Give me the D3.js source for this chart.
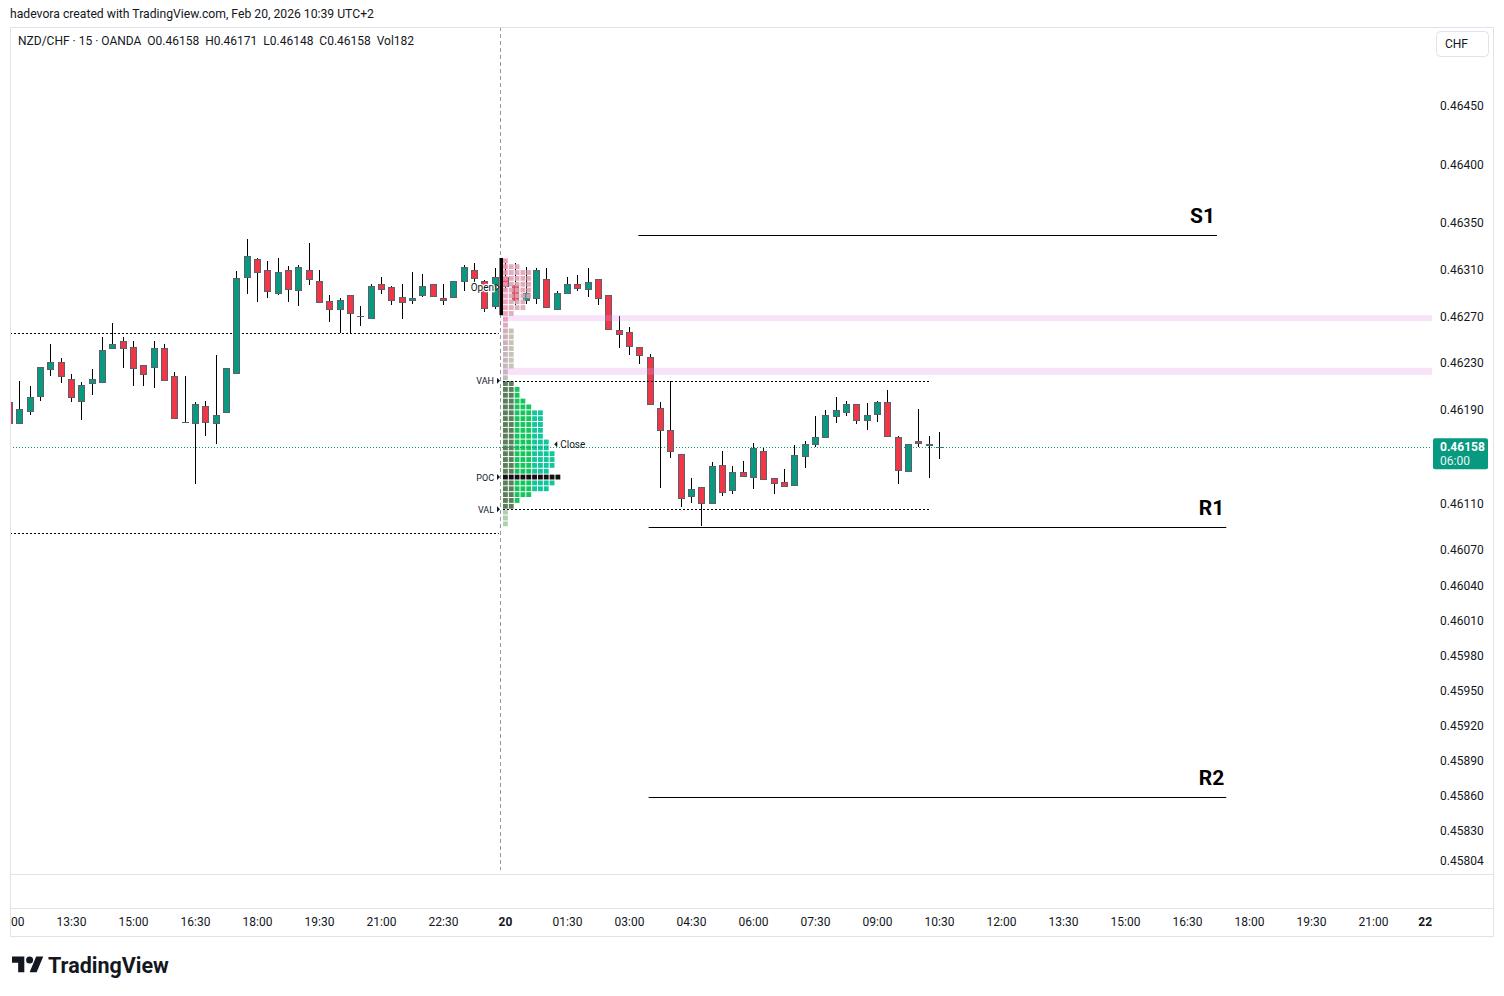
<!DOCTYPE html>
<html>
<head>
<meta charset="utf-8">
<script src="https://cdn.jsdelivr.net/npm/d3@7"></script>
<style>
  body { margin: 0; background: #fff; }
  svg text { font-family: "Trebuchet MS", Roboto, sans-serif; }
</style>
</head>
<body>
<svg id="chart" width="1504" height="996"></svg>
<script>
// 15 min bars, index 0 = Feb 19 12:00
const OPENS = [
  0.46197,0.46179,0.46189,0.46202,0.46225,0.46231,0.46216,0.46197,0.46213,0.46214,
  0.46243,0.46249,0.46244,0.46228,0.46227,0.46243,0.46219,0.46180,0.46179,0.46193,
  0.46179,0.46188,0.46222,0.46304,0.46319,0.46310,0.46290,0.46310,0.46292,0.46310,
  0.46300,0.46283,0.46276,0.46288,0.46270,0.46269,0.46298,0.46295,0.46287,0.46284,
  0.46288,0.46298,0.46286,0.46286,0.46300,0.46310,0.46300,0.46279,0.46304,0.46297,
  0.46284,0.46286,0.46302,0.46276,0.46290,0.46298,0.46293,0.46302,0.46288,0.46258,
  0.46257,0.46244,0.46235,0.46192,0.46173,0.46152,0.46116,0.46124,0.46110,0.46143,
  0.46122,0.46137,0.46132,0.46155,0.46132,0.46128,0.46125,0.46151,0.46161,0.46167,
  0.46185,0.46188,0.46195,0.46182,0.46187,0.46197,0.46167,0.46138,0.46163,0.46161,
  0.46158];
const HIGHS = [
  0.46200,0.46215,0.46210,0.46227,0.46246,0.46234,0.46221,0.46214,0.46225,0.46252,
  0.46264,0.46252,0.46249,0.46228,0.46249,0.46246,0.46222,0.46219,0.46197,0.46198,
  0.46237,0.46226,0.46309,0.46336,0.46320,0.46317,0.46320,0.46313,0.46314,0.46333,
  0.46310,0.46288,0.46286,0.46288,0.46279,0.46298,0.46304,0.46296,0.46298,0.46308,
  0.46306,0.46298,0.46298,0.46300,0.46314,0.46316,0.46301,0.46311,0.46316,0.46316,
  0.46312,0.46311,0.46311,0.46292,0.46304,0.46305,0.46311,0.46302,0.46288,0.46270,
  0.46261,0.46244,0.46238,0.46197,0.46215,0.46152,0.46132,0.46124,0.46145,0.46155,
  0.46142,0.46146,0.46162,0.46158,0.46132,0.46139,0.46160,0.46163,0.46185,0.46190,
  0.46201,0.46198,0.46195,0.46196,0.46198,0.46207,0.46168,0.46161,0.46191,0.46168,
  0.46171];
const LOWS = [
  0.46178,0.46178,0.46186,0.46198,0.46219,0.46213,0.46197,0.46181,0.46203,0.46214,
  0.46243,0.46226,0.46210,0.46210,0.46209,0.46216,0.46183,0.46180,0.46127,0.46168,
  0.46161,0.46188,0.46221,0.46289,0.46282,0.46286,0.46288,0.46282,0.46279,0.46297,
  0.46282,0.46265,0.46256,0.46256,0.46262,0.46269,0.46289,0.46280,0.46268,0.46281,
  0.46287,0.46288,0.46280,0.46286,0.46292,0.46298,0.46274,0.46276,0.46292,0.46280,
  0.46281,0.46281,0.46278,0.46276,0.46290,0.46292,0.46287,0.46280,0.46259,0.46243,
  0.46237,0.46229,0.46195,0.46123,0.46149,0.46107,0.46110,0.46091,0.46110,0.46116,
  0.46118,0.46134,0.46122,0.46131,0.46118,0.46125,0.46125,0.46140,0.46158,0.46167,
  0.46179,0.46185,0.46178,0.46173,0.46180,0.46168,0.46127,0.46137,0.46158,0.46132,
  0.46148];
const CLOSES = [
  0.46179,0.46191,0.46201,0.46227,0.46231,0.46219,0.46201,0.46211,0.46216,0.46241,
  0.46246,0.46243,0.46226,0.46220,0.46243,0.46216,0.46183,0.46180,0.46195,0.46179,
  0.46186,0.46226,0.46303,0.46322,0.46308,0.46292,0.46308,0.46294,0.46312,0.46302,
  0.46282,0.46276,0.46284,0.46273,0.46270,0.46296,0.46294,0.46284,0.46283,0.46286,
  0.46296,0.46288,0.46284,0.46300,0.46312,0.46303,0.46277,0.46304,0.46296,0.46284,
  0.46290,0.46310,0.46278,0.46290,0.46298,0.46295,0.46299,0.46286,0.46259,0.46255,
  0.46245,0.46237,0.46195,0.46173,0.46155,0.46114,0.46122,0.46110,0.46142,0.46120,
  0.46137,0.46134,0.46157,0.46131,0.46128,0.46125,0.46151,0.46161,0.46167,0.46186,
  0.46190,0.46195,0.46181,0.46186,0.46197,0.46168,0.46139,0.46161,0.46161,0.46160,
  0.46158];

const PRICE_TICKS = [0.46450,0.46400,0.46350,0.46310,0.46270,0.46230,0.46190,0.46110,0.46070,
                     0.46040,0.46010,0.45980,0.45950,0.45920,0.45890,0.45860,0.45830,0.45804];
const TIME_TICK_IDX = [0,6,12,18,24,30,36,42,48,54,60,66,72,78,84,90,96,102,108,114,120,126,132,137];
const TIME_TICK_LABELS = ["12:00","13:30","15:00","16:30","18:00","19:30","21:00","22:30","20",
                          "01:30","03:00","04:30","06:00","07:30","09:00","10:30","12:00","13:30",
                          "15:00","16:30","18:00","19:30","21:00","22"];

// session volume profile (Feb 20), rows of 0.00005 from the top
const VP_TOP = 0.46320, VP_STEP = 0.00005;
const VP_COUNTS = [1,3,5,5,5,5,5,4,4,2,1,1,2,2,2,2,2,2,2,1,1,
                   2,3,3,4,5,7,7,7,7,7,8,8,9,9,9,8,10,9,8,5,3,2,
                   1,1,1];
const VAH = 0.46215, VAL = 0.46105, POC_ROW = 37;
const PREV_VAH = 0.46256, PREV_VAL = 0.46085;
const SESSION_START = 47.5, SESSION_OPEN_LABEL = 0.46295;
const OPEN_BAR = [0.46320, 0.46271];
const BAND_LO = [0.46266, 0.46220], BAND_HI = [0.46271, 0.46226];

const LAST_PRICE = 0.46158;
const LEVEL_NAMES = ["S1", "R1", "R2"];
const LEVEL_PRICES = [0.46340, 0.46090, 0.45859];
const LEVEL_FROM = [60.9, 61.9, 61.9];
const LEVEL_TO = [116.9, 117.8, 117.8];

const UP = "#089981", DOWN = "#f23645", BORDER = "#5d606b", TXT = "#131722", GRID = "#e0e3eb";

const svg = d3.select("#chart");
const pane = {left: 10, right: 1432, top: 27, bottom: 874};

var x = d3.scaleLinear().domain([0, 90]).range([9, 939]);
var y = d3.scaleLinear().domain([0.45804, 0.46450]).range([861, 106]);

svg.append("rect").attr("width", 1504).attr("height", 996).attr("fill", "#fff");

// header
svg.append("text").attr("x", 10).attr("y", 18).attr("font-size", 12.2).attr("fill", TXT)
  .text("hadevora created with TradingView.com, Feb 20, 2026 10:39 UTC+2");

// frame
const frame = svg.append("g").attr("fill", "none").attr("stroke", GRID);
frame.append("rect").attr("x", 10.5).attr("y", 27.5).attr("width", 1483).attr("height", 909);
frame.append("line").attr("x1", 10).attr("x2", 1494).attr("y1", 874.5).attr("y2", 874.5);
frame.append("line").attr("x1", 10).attr("x2", 1494).attr("y1", 908.5).attr("y2", 908.5);

svg.append("clipPath").attr("id", "pane").append("rect")
  .attr("x", pane.left + 1).attr("y", pane.top + 1)
  .attr("width", pane.right - pane.left - 1).attr("height", pane.bottom - pane.top - 1);
svg.append("clipPath").attr("id", "taxis").append("rect")
  .attr("x", 11).attr("y", 909).attr("width", 1421).attr("height", 27);

const g = svg.append("g").attr("clip-path", "url(#pane)");

// session break
g.append("line").attr("x1", Math.round(x(SESSION_START)) + 0.5).attr("x2", Math.round(x(SESSION_START)) + 0.5)
  .attr("y1", pane.top).attr("y2", pane.bottom - 4)
  .attr("stroke", "#9598a1").attr("stroke-dasharray", "4,3");

// previous session value area
[PREV_VAH, PREV_VAL].forEach(p => {
  g.append("line").attr("x1", pane.left).attr("x2", x(SESSION_START) - 1)
    .attr("y1", Math.round(y(p)) + 0.5).attr("y2", Math.round(y(p)) + 0.5)
    .attr("stroke", "#000").attr("stroke-dasharray", "2,2");
});

// candles
const bars = d3.range(OPENS.length).map(i => ({i, o: OPENS[i], h: HIGHS[i], l: LOWS[i], c: CLOSES[i]}));
const candle = g.append("g").selectAll("g").data(bars).enter().append("g");
candle.append("line")
  .attr("x1", d => Math.round(x(d.i)) + 0.5).attr("x2", d => Math.round(x(d.i)) + 0.5)
  .attr("y1", d => Math.round(y(d.h))).attr("y2", d => Math.round(y(d.l)))
  .attr("stroke", "#000");
candle.append("rect")
  .attr("x", d => Math.round(x(d.i)) - 2.5)
  .attr("y", d => Math.round(y(Math.max(d.o, d.c))) + 0.5)
  .attr("width", 6)
  .attr("height", d => Math.max(0.01, Math.round(Math.abs(y(d.o) - y(d.c)))))
  .attr("fill", d => d.c > d.o ? UP : d.c < d.o ? DOWN : BORDER)
  .attr("stroke", BORDER);

// volume profile
const vpX = d3.scaleLinear().domain([0, 10]).range([503, 561.3]);
const outerFirst = d3.scaleLinear().domain([0, 9, 12, 20, 45]).range(["#f48fb1", "#ec9cb8", "#c9a6b2", "#b9b6b9", "#a5cca5"]);
const outerRest = d3.scaleLinear().domain([0, 9, 12, 20, 45]).range(["#e3a0b5", "#d8a9b6", "#c5b8ac", "#b8c4b2", "#a8cba8"]);
const cells = [];
VP_COUNTS.forEach((n, r) => {
  for (let c = 0; c < n; c++) cells.push({r, c});
});
const inVA = r => r >= 21 && r <= 42;
g.append("g").selectAll("rect").data(cells).enter().append("rect")
  .attr("x", d => vpX(d.c))
  .attr("y", d => y(VP_TOP - d.r * VP_STEP) + 0.5)
  .attr("width", d => vpX(d.c + 1) - vpX(d.c) - 1)
  .attr("height", d => y(VP_TOP - (d.r + 1) * VP_STEP) - y(VP_TOP - d.r * VP_STEP) - 1)
  .attr("fill", d => {
    if (d.r === POC_ROW) return "#111";
    if (inVA(d.r)) return d.c < 2 ? "#5b7f5b" : d.c < 5 ? "#14c65c" : "#12c69c";
    return d.c === 0 ? outerFirst(d.r) : outerRest(d.r);
  })
  .attr("opacity", d => inVA(d.r) ? 1 : 0.9);

// session open bar
g.append("rect").attr("x", Math.round(x(SESSION_START)) - 0.5).attr("width", 3.5)
  .attr("y", y(OPEN_BAR[0])).attr("height", y(OPEN_BAR[1]) - y(OPEN_BAR[0]))
  .attr("fill", "#000");

// highlighted zones
BAND_LO.forEach((lo, k) => {
  g.append("rect").attr("x", vpX(0)).attr("width", pane.right - vpX(0))
    .attr("y", y(BAND_HI[k])).attr("height", y(lo) - y(BAND_HI[k]))
    .attr("fill", "rgb(225,150,230)").attr("opacity", 0.28);
});

// value area lines
[VAH, VAL].forEach(p => {
  g.append("line").attr("x1", vpX(0)).attr("x2", x(89.2))
    .attr("y1", Math.round(y(p)) + 0.5).attr("y2", Math.round(y(p)) + 0.5)
    .attr("stroke", "#000").attr("stroke-dasharray", "2,2");
});

// last price line
g.append("line").attr("x1", pane.left).attr("x2", pane.right)
  .attr("y1", Math.round(y(LAST_PRICE)) + 0.5).attr("y2", Math.round(y(LAST_PRICE)) + 0.5)
  .attr("stroke", UP).attr("stroke-dasharray", "1,2");

// profile labels
const tri = (gx, gy, dir) => `M${gx},${gy - 3}L${gx + 3 * dir},${gy}L${gx},${gy + 3}Z`;
const sx = Math.round(x(SESSION_START));
[["VAH", VAH], ["POC", VP_TOP - (POC_ROW + 0.5) * VP_STEP], ["VAL", VAL]].forEach(([t, p]) => {
  g.append("text").attr("x", sx - 6).attr("y", y(p) + 3.5).attr("text-anchor", "end")
    .attr("font-size", 9).attr("fill", TXT).text(t);
  g.append("path").attr("d", tri(sx - 3, y(p), 1)).attr("fill", TXT);
});
g.append("text").attr("x", sx - 6).attr("y", y(SESSION_OPEN_LABEL) + 4).attr("text-anchor", "end")
  .attr("font-size", 10).attr("fill", TXT)
  .attr("stroke", "#fff").attr("stroke-width", 2.5).attr("paint-order", "stroke").text("Open");
g.append("path").attr("d", tri(sx - 4, y(SESSION_OPEN_LABEL), 1))
  .attr("fill", "#fff").attr("stroke", TXT);
g.append("path").attr("d", tri(vpX(9.3), y(LAST_PRICE) - 3, -1)).attr("fill", TXT);
g.append("text").attr("x", vpX(9.3) + 3).attr("y", y(LAST_PRICE) + 0.5)
  .attr("font-size", 10).attr("fill", TXT).text("Close");

// S/R levels
LEVEL_NAMES.forEach((name, k) => {
  const ly = Math.round(y(LEVEL_PRICES[k])) + 0.5;
  g.append("line").attr("x1", x(LEVEL_FROM[k])).attr("x2", x(LEVEL_TO[k]))
    .attr("y1", ly).attr("y2", ly).attr("stroke", "#000");
  g.append("text").attr("x", x(LEVEL_TO[k]) - 2).attr("y", ly - 13)
    .attr("text-anchor", "end").attr("font-size", 21).attr("font-weight", "bold")
    .attr("fill", "#000").text(name);
});

// legend
svg.append("text").attr("x", 18).attr("y", 45).attr("font-size", 12).attr("fill", TXT)
  .attr("xml:space", "preserve")
  .text("NZD/CHF \u00b7 15 \u00b7 OANDA  O0.46158  H0.46171  L0.46148  C0.46158  Vol182");

// price axis
const yAxis = d3.axisRight(y).tickValues(PRICE_TICKS).tickFormat(d3.format(".5f")).tickSize(0).tickPadding(8);
const ya = svg.append("g").attr("transform", `translate(${pane.right},0)`).call(yAxis);
ya.select(".domain").remove();
ya.selectAll("text").attr("font-size", 12).attr("fill", TXT).attr("font-family", null);

// last price box
const ly = y(LAST_PRICE);
svg.append("rect").attr("x", 1433).attr("y", ly - 9).attr("width", 55).attr("height", 31)
  .attr("rx", 2).attr("fill", UP);
svg.append("text").attr("x", 1440).attr("y", ly + 4).attr("font-size", 12).attr("font-weight", "bold")
  .attr("fill", "#fff").text(d3.format(".5f")(LAST_PRICE));
svg.append("text").attr("x", 1440).attr("y", ly + 18).attr("font-size", 12)
  .attr("fill", "#e6f5f2").text("06:00");

// currency box
svg.append("rect").attr("x", 1436.5).attr("y", 31.5).attr("width", 52).attr("height", 25)
  .attr("rx", 4).attr("fill", "#fff").attr("stroke", GRID);
svg.append("text").attr("x", 1445).attr("y", 48).attr("font-size", 12).attr("fill", TXT).text("CHF");

// time axis
const xAxis = d3.axisBottom(x).tickValues(TIME_TICK_IDX)
  .tickFormat((d, i) => TIME_TICK_LABELS[i]).tickSize(0).tickPadding(0);
const xa = svg.append("g").attr("clip-path", "url(#taxis)")
  .append("g").attr("transform", "translate(0,917)").call(xAxis);
xa.select(".domain").remove();
xa.selectAll("text").attr("font-size", 12).attr("fill", TXT).attr("font-family", null)
  .attr("font-weight", (d, i) => TIME_TICK_LABELS[i].length === 2 ? "bold" : null);

// logo
const logo = svg.append("g").attr("transform", "translate(12,953) scale(0.88)").attr("fill", TXT);
logo.append("path").attr("d", "M14 22H7V11H0V4h14v18zM28 22h-8l7.5-18h8L28 22z");
logo.append("circle").attr("cx", 20).attr("cy", 8).attr("r", 4);
svg.append("text").attr("x", 48).attr("y", 973).attr("font-size", 21.5).attr("font-weight", "bold")
  .attr("fill", TXT).text("TradingView");
</script>
</body>
</html>
